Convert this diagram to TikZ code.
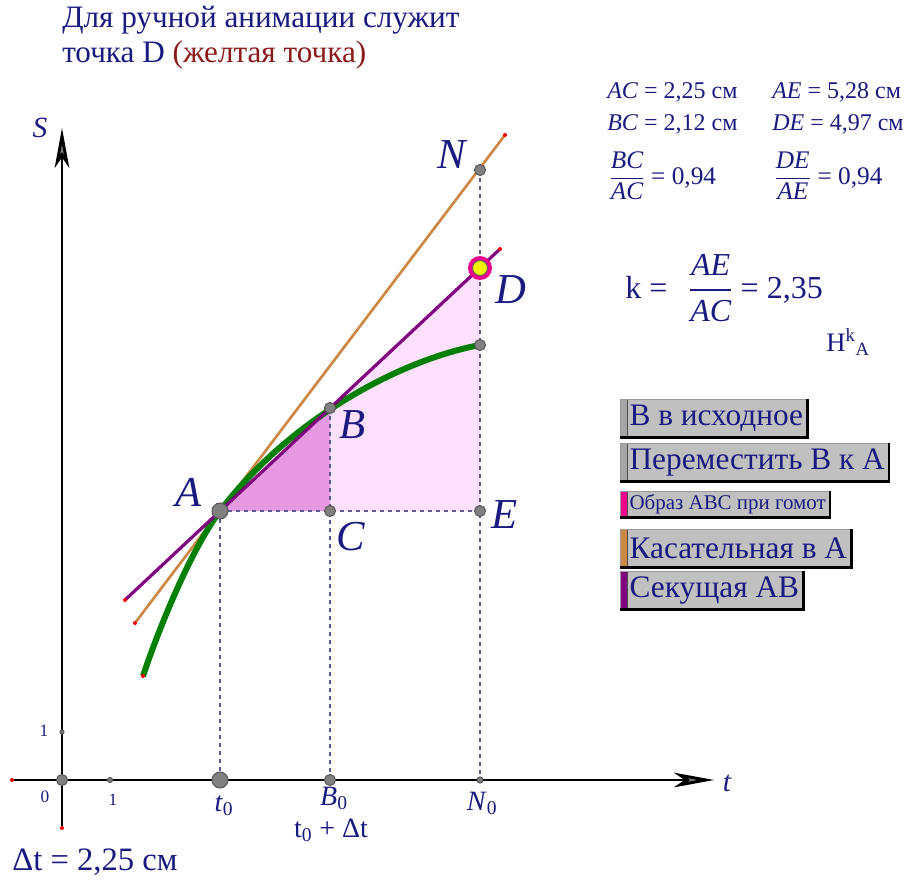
\documentclass[tikz,border=0pt]{standalone}
\usepackage{fontspec}
\usepackage{amsmath}
\setmainfont{Liberation Serif}
\usetikzlibrary{arrows.meta}
\definecolor{txtblue}{HTML}{1A1A80}
\definecolor{txtred}{HTML}{8B1A1A}
\definecolor{curvegreen}{HTML}{008000}
\definecolor{tangorange}{HTML}{CC8844}
\definecolor{secpurple}{HTML}{800080}
\definecolor{pinklight}{HTML}{FFE0FF}
\definecolor{pinkdark}{HTML}{E699E0}
\definecolor{guideblue}{HTML}{5A5A96}
\definecolor{btngray}{HTML}{C0C0C0}
\newcommand\fsz[1]{\fontsize{#1}{#1}\selectfont}
\tikzset{
  axis/.style={line width=2.2pt, -{Stealth[length=30pt, width=11pt, fill=gray, inset=8pt]}},
  guide/.style={guideblue, dashed, line width=0.9pt},
  pt/.style={fill=gray, draw=black!65, line width=0.8pt},
  enddot/.style={fill=red},
  lbl/.style={text=txtblue, font=\fsz{32}\itshape, inner sep=0pt},
  axlbl/.style={text=txtblue, font=\fsz{21}, inner sep=0pt},
  stat/.style={text=txtblue, font=\fsz{18}, inner sep=0pt, anchor=west},
  btn/.style={draw=gray!80, fill=btngray, text=txtblue, anchor=north west,
              inner xsep=3pt, inner ysep=0pt, minimum height=28.5pt, font=\fsz{23.5},
              path picture={\filldraw[fill=#1, draw=black!70, line width=0.6pt]
                (path picture bounding box.north west) rectangle
                ([xshift=5pt]path picture bounding box.south west);}},
  shadow/.style={line width=2pt, black},
}
\begin{document}
\begin{tikzpicture}[x=0.75pt, y=-0.75pt]
  \fill[white] (0,0) rectangle (904,881);
  \useasboundingbox (0,0) rectangle (904,881);

  \coordinate (O) at (62,780);
  \coordinate (T0) at (220,780);
  \coordinate (B0) at (330,780);
  \coordinate (N0) at (480,780);
  \coordinate (A) at (220,511);
  \coordinate (B) at (330,408);
  \coordinate (C) at (330,511);
  \coordinate (E) at (480,511);
  \coordinate (D) at (480,268);
  \coordinate (N) at (480,170);
  \coordinate (F) at (480,345);
  \coordinate (G0) at (143,676);
  \coordinate (xl) at (12,780);
  \coordinate (xr) at (714,780);
  \coordinate (yb) at (62,828);
  \coordinate (yt) at (62,128);
  \coordinate (tg1) at (135,623);
  \coordinate (tg2) at (505,135);
  \coordinate (sc1) at (125,600);
  \coordinate (sc2) at (500,249);
  \coordinate (one) at (110,780);
  \coordinate (yone) at (62,732);

  \fill[pinklight] (A) -- (D) -- (E) -- cycle;
  \fill[pinkdark] (A) -- (B) -- (C) -- cycle;

  \draw[axis] (xl) -- (xr);
  \draw[axis] (yb) -- (yt);

  \draw[guide] (A) -- (E);
  \draw[guide] (A) -- (T0);
  \draw[guide] (B) -- (B0);
  \draw[guide] (N) -- (N0);

  \draw[tangorange, line width=2pt] (tg1) -- (tg2);
  \draw[curvegreen, line width=4.5pt]
    (G0) .. controls (158,631) and (190,551) .. (A)
         .. controls (290,419) and (400,360) .. (F);
  \draw[secpurple, line width=2.4pt] (sc1) -- (sc2);

  \foreach \p in {xl, yb, tg1, tg2, sc1, sc2, G0}
    \fill[enddot] (\p) circle (2);

  \filldraw[pt] (A) circle (8);
  \filldraw[pt] (T0) circle (8);
  \foreach \p in {O, B0, B, C, E, F, N}
    \filldraw[pt] (\p) circle (5.5);
  \filldraw[pt] (N0) circle (3);
  \filldraw[pt] (one) circle (2.5);
  \filldraw[pt] (yone) circle (2);
  \fill[magenta] (D) circle (12);
  \filldraw[fill=yellow, draw=black!60, line width=0.8pt] (D) circle (7.5);

  \node[text=txtblue, font=\fontsize{23.4}{26.3}\selectfont, align=left, anchor=north west, inner sep=0pt]
    (title) at (62,6) {Для ручной анимации служит\\точка D \textcolor{txtred}{(желтая точка)}};

  \node[lbl, font=\fsz{22}\itshape] (Slbl) at (40,128) {S};
  \node[lbl, font=\fsz{22}\itshape] (tlbl) at (727,783) {t};
  \node[lbl] (Nlbl) at (452,155) {N};
  \node[lbl] (Dlbl) at (511,290) {D};
  \node[lbl] (Blbl) at (353,425) {B};
  \node[lbl] (Albl) at (189,492) {A};
  \node[lbl] (Clbl) at (351,537) {C};
  \node[lbl] (Elbl) at (505,515) {E};

  \node[axlbl] (t0lbl) at (224,806) {\textit{t}\textsubscript{0}};
  \node[axlbl] (b0lbl) at (334,798) {\textit{B}\textsubscript{0}};
  \node[axlbl] (n0lbl) at (482,803) {\textit{N}\textsubscript{0}};
  \node[axlbl] (dtlbl) at (331,830) {t\textsubscript{0} + Δt};
  \node[axlbl, font=\fsz{13}] (zero) at (45,797) {0};
  \node[axlbl, font=\fsz{13}] (onelbl) at (113,800) {1};
  \node[axlbl, font=\fsz{13}] (yonelbl) at (44,731) {1};
  \node[axlbl, anchor=west, font=\fsz{24.5}] (dt) at (12,862) {Δt = 2,25 см};

  \node[stat] (ac) at (607,92) {\textit{AC} = 2,25 см};
  \node[stat] (ae) at (772,92) {\textit{AE} = 5,28 см};
  \node[stat] (bc) at (607,124) {\textit{BC} = 2,12 см};
  \node[stat] (de) at (772,124) {\textit{DE} = 4,97 см};
  \node[stat, font=\fsz{19}] (r1) at (609,176) {$\dfrac{\textit{BC}}{\textit{AC}}$ = 0,94};
  \node[stat, font=\fsz{19}] (r2) at (774,176) {$\dfrac{\textit{DE}}{\textit{AE}}$ = 0,94};
  \node[stat, font=\fsz{24}] (k) at (625,288) {k =\ \ \,$\dfrac{\textit{AE}}{\textit{AC}}$ = 2,35};
  \node[stat, font=\fsz{20}] (hom) at (826,342) {H\textsuperscript{k}\textsubscript{A}};

  \node[btn=gray!70] (b1) at (620,399) {\hspace{4pt}В в исходное};
  \node[btn=gray!70] (b2) at (620,443) {\hspace{4pt}Переместить В к А};
  \node[btn=magenta, font=\fsz{15.7}, minimum height=19.5pt] (b3) at (620,491) {\hspace{4pt}Образ АВС при гомот};
  \node[btn=tangorange] (b4) at (620,529) {\hspace{4pt}Касательная в А};
  \node[btn=secpurple] (b5) at (620,571) {\hspace{4pt}Секущая АВ};
  \foreach \b in {b1, b2, b3, b4, b5}
    \draw[shadow] (\b.north east) -- (\b.south east) -- (\b.south west);
\end{tikzpicture}
\end{document}
